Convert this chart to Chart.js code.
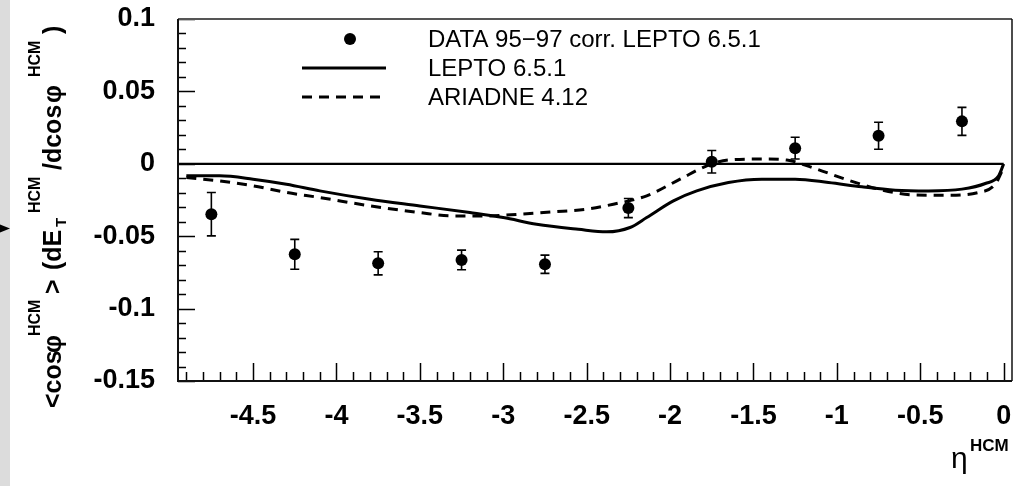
<!DOCTYPE html>
<html>
<head>
<meta charset="utf-8">
<script src="https://cdn.jsdelivr.net/npm/chart.js@4/dist/chart.umd.min.js"></script>
<style>
  html, body { margin: 0; padding: 0; background: #ffffff; }
  #wrap { position: relative; width: 1024px; height: 486px; }
  canvas { display: block; }
</style>
</head>
<body>
<div id="wrap"><canvas id="c" width="1024" height="486"></canvas></div>
<script>
// Measured points: eta bin centres, mean values and errors
const etaBins    = [-4.75, -4.25, -3.75, -3.25, -2.75, -2.25, -1.75, -1.25, -0.75, -0.25];
const dataValues = [-0.0348, -0.0625, -0.0687, -0.0664, -0.0694, -0.0306, 0.0014, 0.0108, 0.0194, 0.0293];
const dataErrors = [0.0150, 0.0103, 0.0080, 0.0068, 0.0063, 0.0066, 0.0078, 0.0075, 0.0093, 0.0097];

// LEPTO 6.5.1 prediction
const leptoEta    = [-4.9, -4.7, -4.5, -4.3, -4.1, -3.8, -3.5, -3.2, -3.0, -2.8, -2.55, -2.38, -2.24, -2.14, -1.98, -1.84, -1.65, -1.45, -1.25, -1.05, -0.85, -0.65, -0.45, -0.25, -0.11, -0.03, 0.0];
const leptoValues = [-0.0083, -0.0083, -0.0106, -0.0141, -0.0187, -0.0245, -0.0291, -0.0337, -0.0371, -0.0417, -0.0452, -0.0470, -0.0440, -0.0371, -0.0256, -0.0187, -0.0129, -0.0106, -0.0106, -0.0129, -0.0159, -0.0182, -0.0187, -0.0175, -0.0136, -0.0083, 0.0];

// ARIADNE 4.12 prediction
const ariadneEta    = [-4.9, -4.7, -4.5, -4.3, -4.1, -3.8, -3.5, -3.3, -3.1, -2.9, -2.7, -2.5, -2.34, -2.14, -1.94, -1.78, -1.65, -1.45, -1.3, -1.15, -0.95, -0.75, -0.55, -0.35, -0.15, -0.05, 0.0];
const ariadneValues = [-0.0095, -0.0118, -0.0152, -0.0198, -0.0233, -0.0290, -0.0337, -0.0360, -0.0360, -0.0348, -0.0332, -0.0313, -0.0279, -0.0221, -0.0106, -0.0014, 0.0026, 0.0033, 0.0026, -0.0025, -0.0106, -0.0175, -0.0214, -0.0217, -0.0198, -0.0140, -0.0025];

// Axis ticks and labels
const xTickValues = [-4.5, -4, -3.5, -3, -2.5, -2, -1.5, -1, -0.5, 0];
const xTickLabels = ['-4.5', '-4', '-3.5', '-3', '-2.5', '-2', '-1.5', '-1', '-0.5', '0'];
const yTickValues = [0.1, 0.05, 0, -0.05, -0.1, -0.15];
const yTickLabels = ['0.1', '0.05', '0', '-0.05', '-0.1', '-0.15'];

const seriesNames = ['DATA 95\u221297 corr. LEPTO 6.5.1', 'LEPTO 6.5.1', 'ARIADNE 4.12'];

const X_MIN = -4.95, X_MAX = 0.05, Y_MIN = -0.15, Y_MAX = 0.1;
const SANS = '"Liberation Sans", Arial, Helvetica, sans-serif';

const toXY = (xs, ys) => xs.map((x, i) => ({ x: x, y: ys[i] }));

// left margin strip with its marker
const sidePanel = {
  id: 'sidePanel',
  beforeDraw(chart) {
    const ctx = chart.ctx;
    ctx.save();
    ctx.fillStyle = '#dcdcdc';
    ctx.fillRect(0, 0, 10, chart.height);
    ctx.fillStyle = '#000';
    ctx.beginPath();
    ctx.moveTo(0, 224.5);
    ctx.lineTo(10, 228.5);
    ctx.lineTo(0, 232.5);
    ctx.closePath();
    ctx.fill();
    ctx.restore();
  }
};

// vertical error bars for the measured points
const errorBars = {
  id: 'errorBars',
  afterDatasetsDraw(chart) {
    const ctx = chart.ctx, xs = chart.scales.x, ys = chart.scales.y;
    ctx.save();
    ctx.strokeStyle = '#000';
    ctx.lineWidth = 1.6;
    etaBins.forEach((eta, i) => {
      const px = xs.getPixelForValue(eta);
      const top = ys.getPixelForValue(dataValues[i] + dataErrors[i]);
      const bot = ys.getPixelForValue(dataValues[i] - dataErrors[i]);
      ctx.beginPath();
      ctx.moveTo(px, top); ctx.lineTo(px, bot);
      ctx.moveTo(px - 4.5, top); ctx.lineTo(px + 4.5, top);
      ctx.moveTo(px - 4.5, bot); ctx.lineTo(px + 4.5, bot);
      ctx.stroke();
    });
    ctx.restore();
  }
};

// frame and inward tick marks
const frameTicks = {
  id: 'frameTicks',
  afterDraw(chart) {
    const ctx = chart.ctx, a = chart.chartArea, xs = chart.scales.x, ys = chart.scales.y;
    ctx.save();
    ctx.strokeStyle = '#000';
    ctx.lineWidth = 1.5;
    ctx.beginPath();
    // x ticks every 0.1, longer every 0.5
    for (let k = -49; k <= 0; k++) {
      const v = k / 10;
      const px = Math.round(xs.getPixelForValue(v)) + 0.5;
      const len = (k % 5 === 0) ? 18 : 9;
      ctx.moveTo(px, a.bottom); ctx.lineTo(px, a.bottom - len);
    }
    // y ticks every 0.01, longer every 0.05
    for (let k = -15; k <= 10; k++) {
      const v = k / 100;
      const py = Math.round(ys.getPixelForValue(v)) + 0.5;
      const len = (k % 5 === 0) ? 17 : 8;
      ctx.moveTo(a.left, py); ctx.lineTo(a.left + len, py);
    }
    ctx.stroke();
    // frame
    ctx.lineWidth = 2;
    ctx.strokeStyle = '#555';
    ctx.beginPath(); ctx.moveTo(a.left, a.top); ctx.lineTo(a.right, a.top); ctx.stroke();
    ctx.strokeStyle = '#111';
    ctx.beginPath();
    ctx.moveTo(a.left, a.top); ctx.lineTo(a.left, a.bottom); ctx.lineTo(a.right, a.bottom);
    ctx.stroke();
    ctx.lineWidth = 1.5;
    ctx.beginPath(); ctx.moveTo(a.right, a.top); ctx.lineTo(a.right, a.bottom); ctx.stroke();
    ctx.restore();
  }
};

// text pieces placed along a line; 'at' is the offset along the text direction
function drawRich(ctx, parts, x, y, rotate) {
  ctx.save();
  ctx.translate(x, y);
  if (rotate) ctx.rotate(-Math.PI / 2);
  ctx.textBaseline = 'alphabetic';
  ctx.textAlign = 'left';
  ctx.fillStyle = '#000';
  parts.forEach(p => {
    ctx.font = p.font;
    ctx.fillText(p.text, p.at, p.dy || 0);
  });
  ctx.restore();
}

// axis titles with super- and subscripts
const axisTitles = {
  id: 'axisTitles',
  afterDraw(chart) {
    const ctx = chart.ctx;
    const main = 'bold 25px ' + SANS;
    const sup = 'bold 16px ' + SANS;
    const sub = 'bold 15px ' + SANS;
    drawRich(ctx, [
      { text: '<cos', font: main, at: 0 },
      { text: '\u03c6', font: main, at: 55 },
      { text: 'HCM', font: sup, at: 72, dy: -21 },
      { text: '>', font: main, at: 114 },
      { text: '(dE', font: main, at: 138 },
      { text: 'T', font: sub, at: 181, dy: 5 },
      { text: 'HCM', font: sup, at: 195, dy: -21 },
      { text: '/dcos', font: main, at: 238 },
      { text: '\u03c6', font: main, at: 305 },
      { text: 'HCM', font: sup, at: 331, dy: -21 },
      { text: ')', font: main, at: 374 }
    ], 61, 408, true);
    drawRich(ctx, [
      { text: '\u03b7', font: '30px ' + SANS, at: 0 },
      { text: 'HCM', font: 'bold 17px ' + SANS, at: 19, dy: -17 }
    ], 951, 468, false);
  }
};

// legend drawn from the dataset styles
const legendBox = {
  id: 'legendBox',
  afterDraw(chart) {
    const ctx = chart.ctx;
    const rows = [39, 68, 97];
    ctx.save();
    ctx.fillStyle = '#000';
    ctx.strokeStyle = '#000';
    // marker
    ctx.beginPath(); ctx.arc(350, rows[0], 6, 0, Math.PI * 2); ctx.fill();
    // solid line
    const d1 = chart.data.datasets[1];
    ctx.lineWidth = d1.borderWidth;
    ctx.setLineDash([]);
    ctx.beginPath(); ctx.moveTo(302, rows[1]); ctx.lineTo(386, rows[1]); ctx.stroke();
    // dashed line
    const d2 = chart.data.datasets[2];
    ctx.lineWidth = d2.borderWidth;
    ctx.setLineDash(d2.borderDash);
    ctx.beginPath(); ctx.moveTo(302, rows[2]); ctx.lineTo(380, rows[2]); ctx.stroke();
    ctx.setLineDash([]);
    ctx.font = '24px ' + SANS;
    ctx.textBaseline = 'middle';
    ctx.textAlign = 'left';
    seriesNames.forEach((n, i) => ctx.fillText(n, 428, rows[i] + 1));
    ctx.restore();
  }
};

new Chart(document.getElementById('c'), {
  type: 'scatter',
  data: {
    datasets: [
      {
        label: seriesNames[0],
        data: toXY(etaBins, dataValues),
        showLine: false,
        pointRadius: 6,
        pointBackgroundColor: '#000',
        pointBorderColor: '#000',
        pointBorderWidth: 0,
        order: 0
      },
      {
        label: seriesNames[1],
        data: toXY(leptoEta, leptoValues),
        showLine: true,
        borderColor: '#000',
        borderWidth: 3,
        pointRadius: 0,
        cubicInterpolationMode: 'monotone',
        fill: false,
        order: 2
      },
      {
        label: seriesNames[2],
        data: toXY(ariadneEta, ariadneValues),
        showLine: true,
        borderColor: '#000',
        borderWidth: 3,
        borderDash: [10, 7],
        pointRadius: 0,
        cubicInterpolationMode: 'monotone',
        fill: false,
        order: 2
      },
      {
        label: 'zero',
        data: [{ x: X_MIN, y: 0 }, { x: 0, y: 0 }],
        showLine: true,
        borderColor: '#000',
        borderWidth: 2.2,
        pointRadius: 0,
        fill: false,
        order: 3
      }
    ]
  },
  options: {
    responsive: false,
    animation: false,
    events: [],
    layout: { padding: { top: 19, right: 12, left: 0, bottom: 0 } },
    plugins: { legend: { display: false }, tooltip: { enabled: false }, title: { display: false } },
    scales: {
      x: {
        type: 'linear',
        min: X_MIN, max: X_MAX,
        // invisible tick length spaces the labels below the frame
        grid: { display: false, drawTicks: true, tickLength: 19 },
        border: { display: false },
        afterBuildTicks: s => { s.ticks = xTickValues.map(v => ({ value: v })); },
        afterFit: s => { s.height = 105; },
        ticks: {
          padding: 0,
          maxRotation: 0,
          autoSkip: false,
          color: '#000',
          font: { family: SANS, size: 27, weight: 'bold' },
          callback: v => { const i = xTickValues.indexOf(v); return i >= 0 ? xTickLabels[i] : ''; }
        }
      },
      y: {
        type: 'linear',
        min: Y_MIN, max: Y_MAX,
        grid: { display: false, drawTicks: true, tickLength: 23 },
        border: { display: false },
        afterBuildTicks: s => { s.ticks = yTickValues.map(v => ({ value: v })); },
        afterFit: s => { s.width = 178; },
        ticks: {
          padding: 0,
          autoSkip: false,
          color: '#000',
          font: { family: SANS, size: 27, weight: 'bold' },
          callback: v => { const i = yTickValues.indexOf(v); return i >= 0 ? yTickLabels[i] : ''; }
        }
      }
    }
  },
  plugins: [sidePanel, errorBars, frameTicks, axisTitles, legendBox]
});
</script>
</body>
</html>
